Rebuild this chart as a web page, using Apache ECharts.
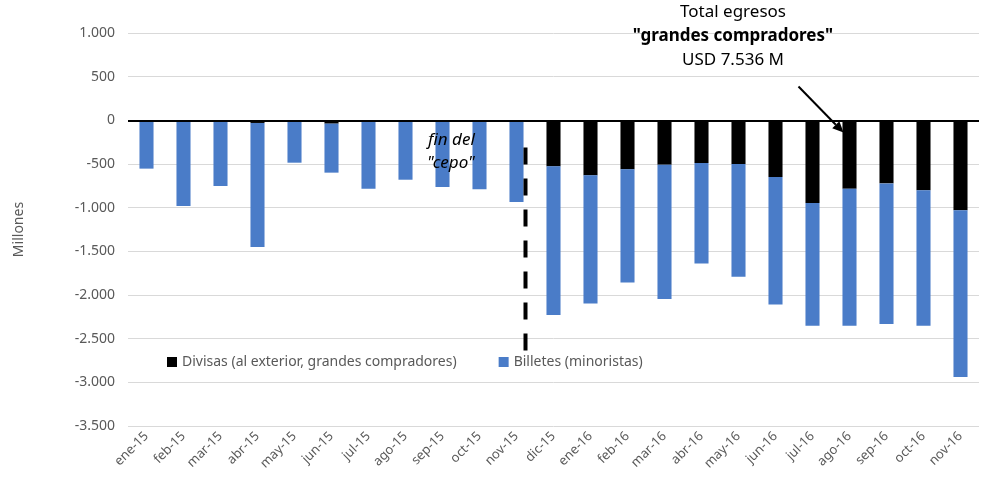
<!DOCTYPE html>
<html>
<head>
<meta charset="utf-8">
<script src="https://cdn.jsdelivr.net/npm/echarts@6/dist/echarts.min.js"></script>
<style>
    html, body { margin: 0; padding: 0; background: #fff; }
    #chart { width: 981px; height: 487px; }
</style>
</head>
<body>
<div id="chart"></div>
<script>
/*datos start*/
const categories = ['ene-15', 'feb-15', 'mar-15', 'abr-15', 'may-15', 'jun-15', 'jul-15', 'ago-15', 'sep-15', 'oct-15', 'nov-15', 'dic-15',
    'ene-16', 'feb-16', 'mar-16', 'abr-16', 'may-16', 'jun-16', 'jul-16', 'ago-16', 'sep-16', 'oct-16', 'nov-16'];
// Divisas (al exterior, grandes compradores)
const divisas = [0, 0, 0, -30, 0, -38, 0, 0, 0, 0, 0, -527,
    -630, -561, -508, -489, -500, -649, -947, -783, -722, -802, -1031];
// Billetes (minoristas)
const billetes = [-553, -981, -752, -1421, -485, -561, -782, -680, -764, -790, -935, -1703,
    -1466, -1295, -1539, -1149, -1291, -1459, -1405, -1569, -1611, -1550, -1909];
const yTicks = { min: -3500, max: 1000, interval: 500 };
/*datos end*/

const FONT = 'Noto Sans';
const GREY = '#595959';

function fmtMiles(v) {
    let s = Math.abs(v).toString().replace(/\B(?=(\d{3})+(?!\d))/g, '.');
    return (v < 0 ? '-' : '') + s;
}

let chart = echarts.init(document.getElementById('chart'));

let option = {
    animation: false,
    textStyle: { fontFamily: FONT },
    grid: { left: 128, right: 2, top: 33, bottom: 61 },
    legend: {
        left: 162, top: 350,
        itemWidth: 10, itemHeight: 10, itemGap: 42,
        icon: 'rect',
        textStyle: { color: GREY, fontSize: 14, fontFamily: FONT },
        data: ['Divisas (al exterior, grandes compradores)', 'Billetes (minoristas)']
    },
    xAxis: {
        type: 'category',
        data: categories,
        axisLine: { show: false, onZero: false },
        axisTick: { show: false },
        axisLabel: { rotate: 45, color: GREY, fontSize: 13, margin: 8, interval: 0 }
    },
    yAxis: {
        type: 'value',
        min: yTicks.min, max: yTicks.max, interval: yTicks.interval,
        name: 'Millones',
        nameLocation: 'middle',
        nameRotate: 90,
        nameGap: 102,
        nameTextStyle: { color: GREY, fontSize: 14 },
        axisLine: { show: false },
        axisTick: { show: false },
        axisLabel: { color: GREY, fontSize: 14, margin: 13, formatter: fmtMiles },
        splitLine: { lineStyle: { color: '#d9d9d9', width: 1 } }
    },
    series: [
        {
            name: 'Divisas (al exterior, grandes compradores)',
            type: 'bar',
            stack: 'total',
            barWidth: '38%',
            itemStyle: { color: '#000000' },
            data: divisas,
            markLine: {
                silent: true,
                symbol: 'none',
                label: { show: false },
                lineStyle: { color: '#000', width: 2, type: 'solid' },
                data: [{ yAxis: 0 }]
            }
        },
        {
            name: 'Billetes (minoristas)',
            type: 'bar',
            stack: 'total',
            barWidth: '38%',
            itemStyle: { color: '#4A7CC8' },
            data: billetes
        }
    ]
};
chart.setOption(option);

/*anotaciones start*/
function addAnnotations() {
    let xCepo = chart.convertToPixel({ xAxisIndex: 0 }, 10) + 9;
    let yTop = chart.convertToPixel({ yAxisIndex: 0 }, -310);
    let yBot = chart.convertToPixel({ yAxisIndex: 0 }, -2660);
    let xAgo = chart.convertToPixel({ xAxisIndex: 0 }, 19) - 6;
    let yAgo = chart.convertToPixel({ yAxisIndex: 0 }, -140);
    let sx = xAgo - 45, sy = yAgo - 46;
    let ang = Math.atan2(yAgo - sy, xAgo - sx);
    let hl = 11, hw = 5;
    let bx = xAgo - hl * Math.cos(ang), by = yAgo - hl * Math.sin(ang);
    let px = -Math.sin(ang) * hw, py = Math.cos(ang) * hw;

    chart.setOption({
        graphic: [
            {
                type: 'line', silent: true, z: 100,
                shape: { x1: xCepo, y1: yTop, x2: xCepo, y2: yBot },
                style: { stroke: '#000', lineWidth: 4, lineDash: [17, 14] }
            },
            {
                type: 'text', silent: true, z: 100, left: 428, top: 132,
                style: { text: 'fin del', font: 'italic 17px ' + FONT, fill: '#000' }
            },
            {
                type: 'text', silent: true, z: 100, left: 427, top: 155,
                style: { text: '"cepo"', font: 'italic 17px ' + FONT, fill: '#000' }
            },
            {
                type: 'text', silent: true, z: 100, x: 733, y: 4,
                style: { text: 'Total egresos', font: '17px ' + FONT, fill: '#000', align: 'center' }
            },
            {
                type: 'text', silent: true, z: 100, x: 733, y: 28,
                style: { text: '"grandes compradores"', font: 'bold 17px ' + FONT, fill: '#000', align: 'center' }
            },
            {
                type: 'text', silent: true, z: 100, x: 733, y: 52,
                style: { text: 'USD 7.536 M', font: '17px ' + FONT, fill: '#000', align: 'center' }
            },
            {
                type: 'line', silent: true, z: 100,
                shape: { x1: sx, y1: sy, x2: bx, y2: by },
                style: { stroke: '#000', lineWidth: 2 }
            },
            {
                type: 'polygon', silent: true, z: 100,
                shape: { points: [[xAgo, yAgo], [bx + px, by + py], [bx - px, by - py]] },
                style: { fill: '#000' }
            }
        ]
    });
}
addAnnotations();
/*anotaciones end*/
</script>
</body>
</html>
